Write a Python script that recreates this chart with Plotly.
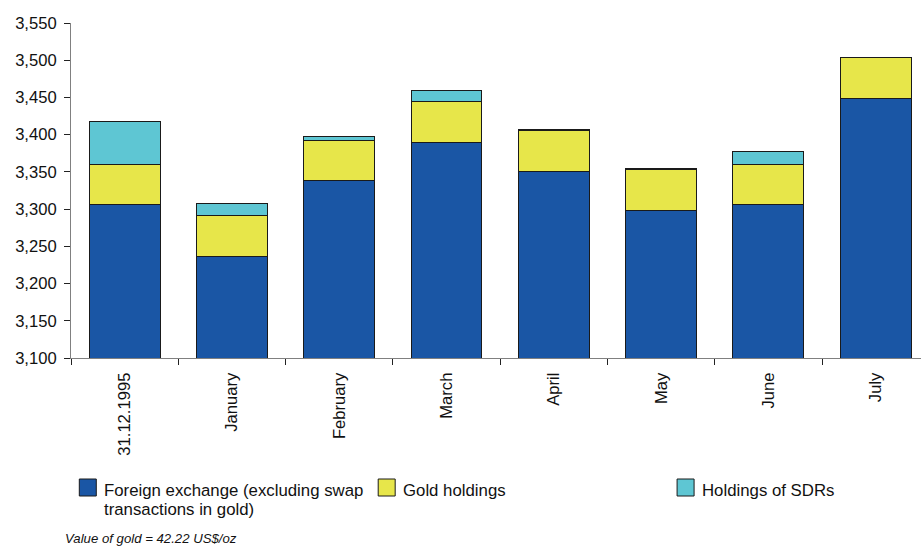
import plotly.graph_objects as go

categories = ["31.12.1995", "January", "February", "March", "April", "May", "June", "July"]
foreign_exchange = [3306, 3236, 3338, 3389, 3350, 3298, 3306, 3448]
gold_holdings = [54, 55, 54, 55, 55, 55, 54, 55]
sdr_holdings = [58, 16, 5, 15, 1.5, 1.5, 17, 0]
series_names = ["Foreign exchange (excluding swap", "Gold holdings", "Holdings of SDRs"]
note_text = "Value of gold = 42.22 US$/oz"

W, H = 921, 548
L, T, B = 70.7, 23, 190
plot_w = W - L
plot_h = H - T - B

colors = ["#1A56A5", "#E7E64A", "#5EC6D3"]
FONT = "Liberation Sans, Arial, sans-serif"

def px(x):
    return (x - L) / plot_w

def py(y):
    return (H - B - y) / plot_h

fig = go.Figure()
for name, vals, col in zip(series_names, [foreign_exchange, gold_holdings, sdr_holdings], colors):
    fig.add_trace(go.Bar(
        x=categories, y=vals, name=name,
        marker=dict(color=col, line=dict(color="#1a1a1a", width=1)),
        showlegend=False,
    ))

fig.update_layout(
    width=W, height=H,
    margin=dict(l=L, r=0, t=T, b=B, pad=0),
    barmode="stack", bargap=0.34,
    plot_bgcolor="white", paper_bgcolor="white",
    font=dict(family=FONT, size=16, color="#111"),
    xaxis=dict(
        range=[-0.5, -0.5 + plot_w / 107.33],
        tickangle=-90, tickson="boundaries", ticks="outside", ticklen=6,
        tickcolor="#222", showline=True, linecolor="#808080", linewidth=1,
        showgrid=False, tickfont=dict(size=16.6, family=FONT),
        ticklabelstandoff=7,
    ),
    yaxis=dict(
        range=[3100, 3550], dtick=50, tickformat=",d",
        ticks="outside", ticklen=6, tickcolor="#222",
        showline=True, linecolor="#808080", linewidth=1,
        showgrid=False, zeroline=False, tickfont=dict(size=16.6, family=FONT),
        ticklabelstandoff=4,
    ),
)

# Legend drawn manually
legend_items = [
    (79, [series_names[0], "transactions in gold)"]),
    (378, [series_names[1]]),
    (677, [series_names[2]]),
]
for (x0, lines), col in zip(legend_items, colors):
    fig.add_shape(type="rect", xref="paper", yref="paper",
                  x0=px(x0), x1=px(x0 + 17), y0=py(479), y1=py(496),
                  fillcolor=col, line=dict(color="#1a1a1a", width=1))
    for i, line in enumerate(lines):
        fig.add_annotation(xref="paper", yref="paper", x=px(x0 + 23), y=py(490.5 + i * 18.5),
                           text=line, showarrow=False, xanchor="left", yanchor="middle",
                           font=dict(size=16.8, family=FONT, color="#111"))

fig.add_annotation(xref="paper", yref="paper", x=px(63), y=py(538.5),
                   text="<i>" + note_text + "</i>", showarrow=False,
                   xanchor="left", yanchor="middle",
                   font=dict(size=13.2, family=FONT, color="#111"))

fig.write_html("out.html")
